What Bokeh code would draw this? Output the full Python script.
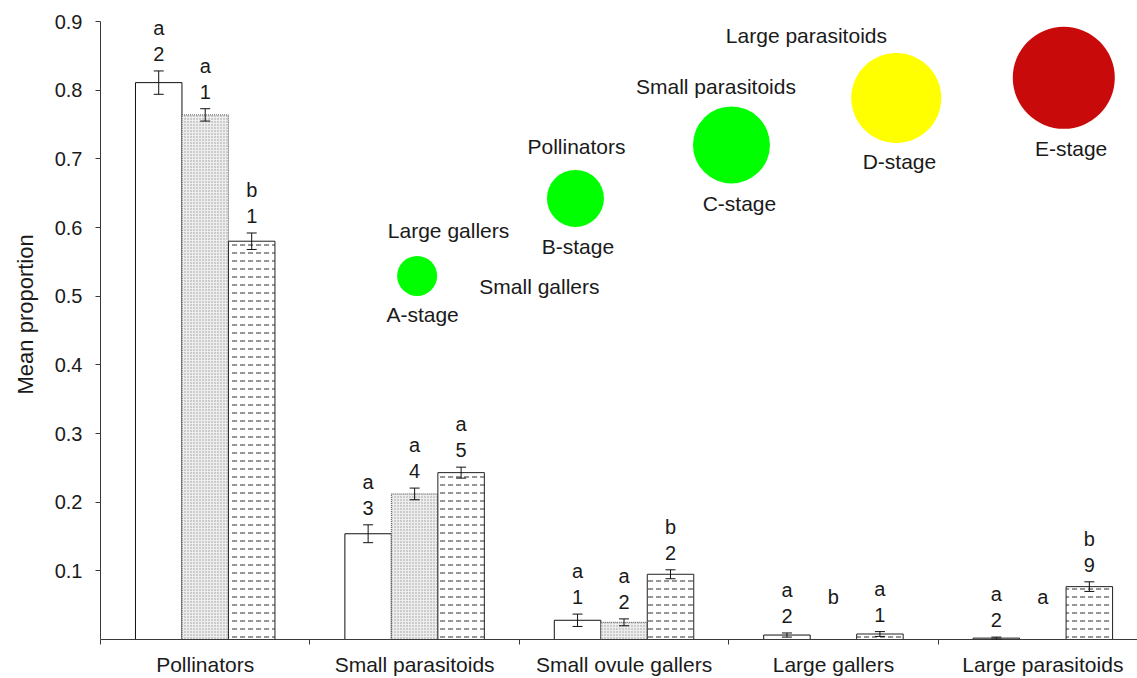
from bokeh.plotting import figure
from bokeh.models import (ColumnDataSource, Range1d, FixedTicker, Whisker, TeeHead, Title)
from bokeh.core.properties import value
from bokeh.embed import file_html
from bokeh.resources import INLINE

# ---------------- data ----------------
categories = ["Pollinators", "Small parasitoids", "Small ovule gallers",
              "Large gallers", "Large parasitoids"]

s1_mean = [0.811, 0.154, 0.028, 0.0065, 0.002]
s1_err = [0.017, 0.013, 0.009, 0.003, 0.0015]
s2_mean = [0.764, 0.212, 0.025, 0.0, 0.0]
s2_err = [0.009, 0.0085, 0.005, 0.0, 0.0]
s3_mean = [0.580, 0.243, 0.095, 0.008, 0.077]
s3_err = [0.012, 0.008, 0.0065, 0.0035, 0.007]

letters1 = ["a", "a", "a", "a", "a"]
letters2 = ["a", "a", "a", "b", "a"]
letters3 = ["b", "a", "b", "a", "b"]
numbers1 = ["2", "3", "1", "2", "2"]
numbers2 = ["1", "4", "2", "", ""]
numbers3 = ["1", "5", "2", "1", "9"]

y_ticks = [0.1, 0.2, 0.3, 0.4, 0.5, 0.6, 0.7, 0.8, 0.9]
y_tick_labels = ["0.1", "0.2", "0.3", "0.4", "0.5", "0.6", "0.7", "0.8", "0.9"]
y_title = "Mean proportion"

stage_names = ["A-stage", "B-stage", "C-stage", "D-stage", "E-stage"]
stage_colors = ["#00FF00", "#00FF00", "#00FF00", "#FFFF00", "#C80A0A"]
stage_entrants = ["Large gallers", "Small gallers", "Pollinators",
                  "Small parasitoids", "Large parasitoids"]

# ---------------- layout constants ----------------
FONT = "Liberation Sans"
TXT = "#1a1a1a"
AX = "#3a3a3a"
BAR_W = 0.222

p = figure(width=1137, height=678,
           x_range=Range1d(0, 4.952), y_range=Range1d(0, 0.9),
           output_backend="svg", toolbar_location=None,
           min_border_left=100, min_border_right=0,
           min_border_top=21, min_border_bottom=38)
p.xgrid.visible = False
p.ygrid.visible = False
p.outline_line_color = None
p.background_fill_color = "white"
p.border_fill_color = "white"

series = [
    (s1_mean, s1_err, letters1, numbers1, -BAR_W),
    (s2_mean, s2_err, letters2, numbers2, 0.0),
    (s3_mean, s3_err, letters3, numbers3, BAR_W),
]

styles = [
    dict(fill_color="white", line_color="#111111", line_width=1),
    dict(fill_color="#eeeeee", line_color="#555555", line_width=1,
         line_dash="1 1", hatch_pattern="dot", hatch_scale=3,
         hatch_color="#999999", hatch_weight=1),
    dict(fill_color="white", line_color="#222222", line_width=1,
         hatch_pattern="horizontal_dash", hatch_scale=8,
         hatch_color="#505050", hatch_weight=1.2),
]

for (mean, err, let, num, off), st in zip(series, styles):
    xs = [i + 0.5 + off for i in range(len(categories))]
    src = ColumnDataSource(dict(
        x=xs, top=mean,
        upper=[m + e for m, e in zip(mean, err)],
        letter=let, number=num))
    p.vbar(x="x", top="top", bottom=0, width=BAR_W, source=src, **st)

    # error bars only where there is an error
    idx = [i for i, e in enumerate(err) if e > 0]
    esrc = ColumnDataSource(dict(
        x=[xs[i] for i in idx],
        upper=[mean[i] + err[i] for i in idx],
        lower=[mean[i] - err[i] for i in idx]))
    w = Whisker(source=esrc, base="x", upper="upper", lower="lower",
                dimension="height", line_color="#111111", line_width=1,
                level="annotation",
                upper_head=TeeHead(size=10, line_color="#111111", line_width=1),
                lower_head=TeeHead(size=10, line_color="#111111", line_width=1))
    p.add_layout(w)

    p.text(x="x", y="upper", text="number", source=src,
           text_font=value(FONT), text_font_size="20px", text_color=TXT,
           text_align="center", text_baseline="alphabetic", y_offset=-17)
    p.text(x="x", y="upper", text="letter", source=src,
           text_font=value(FONT), text_font_size="20px", text_color=TXT,
           text_align="center", text_baseline="alphabetic", y_offset=-43)

# ---------------- stage illustration (inset) ----------------
circ_x = [1.512, 2.268, 3.013, 3.800, 4.600]
circ_y = [0.5295, 0.6424, 0.7203, 0.7886, 0.8180]
circ_d = [40, 57, 77, 90, 102]
p.scatter(x=circ_x, y=circ_y, size=circ_d, marker="circle",
          fill_color=stage_colors, line_color=None)

lab_x = [1.538, 2.280, 3.051, 3.815, 4.635]
lab_y = [0.4729, 0.5721, 0.6352, 0.6956, 0.7151]
p.text(x=lab_x, y=lab_y, text=stage_names,
       text_font=value(FONT), text_font_size="21px", text_color=TXT,
       text_align="center", text_baseline="middle")

ent_x = [1.662, 2.096, 2.273, 2.939, 3.371]
ent_y = [0.5950, 0.5140, 0.7184, 0.8060, 0.8797]
p.text(x=ent_x, y=ent_y, text=stage_entrants,
       text_font=value(FONT), text_font_size="21px", text_color=TXT,
       text_align="center", text_baseline="middle")

# ---------------- axes ----------------
xa = p.xaxis[0]
xa.ticker = FixedTicker(ticks=[i + 0.5 for i in range(len(categories))],
                        minor_ticks=list(range(len(categories))))
xa.major_label_overrides = {i + 0.5: c for i, c in enumerate(categories)}
xa.major_tick_in = 0
xa.major_tick_out = 0
xa.minor_tick_in = 0
xa.minor_tick_out = 5
xa.minor_tick_line_color = AX
xa.axis_line_color = AX
xa.major_label_standoff = 8
xa.major_label_text_font = FONT
xa.major_label_text_font_size = "21px"
xa.major_label_text_color = TXT

ya = p.yaxis[0]
ya.ticker = FixedTicker(ticks=y_ticks, minor_ticks=[])
ya.major_label_overrides = {t: l for t, l in zip(y_ticks, y_tick_labels)}
ya.major_tick_in = 0
ya.major_tick_out = 5
ya.major_tick_line_color = AX
ya.axis_line_color = AX
ya.major_label_standoff = 13
ya.major_label_text_font = FONT
ya.major_label_text_font_size = "20px"
ya.major_label_text_color = TXT

yt = Title(text=y_title, align="left", offset=245, standoff=24,
           vertical_align="top",
           text_font=FONT, text_font_size="22px", text_font_style="normal",
           text_color=TXT)
p.add_layout(yt, "left")

open("out.html", "w").write(file_html(p, INLINE))
